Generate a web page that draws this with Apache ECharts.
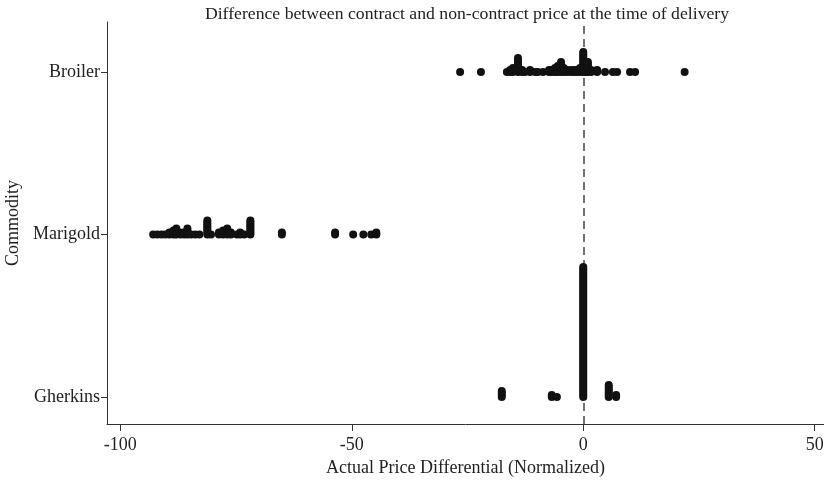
<!DOCTYPE html>
<html><head><meta charset="utf-8">
<script src="https://cdn.jsdelivr.net/npm/echarts@6/dist/echarts.min.js"></script>
<style>html,body{margin:0;padding:0;background:#fff}#c{width:824px;height:480px}</style>
</head><body><div id="c"></div>
<script>
// Categories (y positions 0,1,2 from bottom)
const categories = ['Gherkins', 'Marigold', 'Broiler'];
// Distinct price-differential values and number of stacked dots at each value
const broilerX = [-26.6,-22.1,-16.5,-15.8,-15.2,-14.1,-13.2,-12.6,-11.5,-10.4,-9.8,-8.7,-7.4,-6.8,-6.1,-5.5,-4.8,-4.2,-3.5,-2.7,-2.0,-1.4,-0.7,0,0.6,1.0,1.7,3.0,4.7,6.4,7.3,10.1,11.2,21.9];
const broilerN = [1,1,1,2,3,8,2,1,2,1,1,1,2,2,3,4,6,3,2,2,2,2,3,11,4,6,2,2,1,1,1,1,1,1];
const marigoldX = [-92.9,-92.0,-91.1,-90.3,-89.4,-88.5,-87.9,-87.0,-86.2,-85.5,-84.7,-83.8,-82.9,-81.2,-80.4,-78.7,-77.8,-76.9,-76.1,-74.8,-74.1,-73.2,-71.9,-65.1,-53.6,-49.7,-47.5,-45.8,-44.7];
const marigoldN = [1,1,1,1,2,3,4,2,2,4,1,1,1,8,1,2,3,4,2,1,2,1,8,2,2,1,1,1,2];
const gherkinsX = [-17.6,-6.8,-5.7,0,5.5,7.1];
const gherkinsN = [4,2,1,66,7,2];
// Axis tick labels
const xTicks = [-100, -50, 0, 50];
const yTicks = [0, 1, 2];

const stackStep = 0.0123; // vertical offset between stacked dots (axis units)
function stack(xs, ns, base) {
  const pts = [];
  xs.forEach((x, i) => { for (let k = 0; k < ns[i]; k++) pts.push([x, base + k * stackStep]); });
  return pts;
}
const FONT = 'Liberation Serif';
const chart = echarts.init(document.getElementById('c'), null, {renderer: 'canvas'});
const dotStyle = {color: '#111', opacity: 1};
chart.setOption({
  animation: false,
  backgroundColor: '#fff',
  textStyle: {fontFamily: FONT},
  grid: {left: 107, right: 0, top: 22, bottom: 56, outerBoundsMode: 'none', containLabel: false},
  graphic: [{
    type: 'text', x: 467, y: 14,
    style: {text: 'Difference between contract and non-contract price at the time of delivery',
      fontFamily: FONT, fontSize: 17.7, fill: '#222', textAlign: 'center', textVerticalAlign: 'middle'}
  }],
  xAxis: {
    type: 'value', min: -102.87, max: 52.0,
    axisLine: {show: true, onZero: false, lineStyle: {color: '#333', width: 1}},
    axisTick: {show: true, length: 7, customValues: xTicks, lineStyle: {color: '#333'}},
    axisLabel: {customValues: xTicks, fontFamily: FONT, fontSize: 18, color: '#222', margin: 12},
    splitLine: {show: false},
    name: 'Actual Price Differential (Normalized)', nameLocation: 'middle', nameGap: 34,
    nameTextStyle: {fontFamily: FONT, fontSize: 18, color: '#222'}
  },
  yAxis: {
    type: 'value', min: -0.166, max: 2.308,
    axisLine: {show: true, onZero: false, lineStyle: {color: '#333', width: 1}},
    axisTick: {show: true, length: 6, customValues: yTicks, lineStyle: {color: '#333'}},
    axisLabel: {customValues: yTicks, formatter: v => categories[Math.round(v)], fontFamily: FONT, fontSize: 18, color: '#222', margin: 7},
    splitLine: {show: false},
    name: 'Commodity', nameLocation: 'middle', nameGap: 81, nameRotate: 90,
    nameTextStyle: {fontFamily: FONT, fontSize: 18, color: '#222'}
  },
  series: [
    {type: 'scatter', name: 'Gherkins', data: stack(gherkinsX, gherkinsN, 0), symbolSize: 8, itemStyle: dotStyle, z: 3,
      markLine: {silent: true, symbol: 'none', label: {show: false}, z: 1,
        lineStyle: {color: '#444', type: [8, 5], width: 1.5}, data: [{xAxis: 0}]}},
    {type: 'scatter', name: 'Marigold', data: stack(marigoldX, marigoldN, 1), symbolSize: 8, itemStyle: dotStyle, z: 3},
    {type: 'scatter', name: 'Broiler', data: stack(broilerX, broilerN, 2), symbolSize: 8, itemStyle: dotStyle, z: 3}
  ]
});
</script></body></html>
